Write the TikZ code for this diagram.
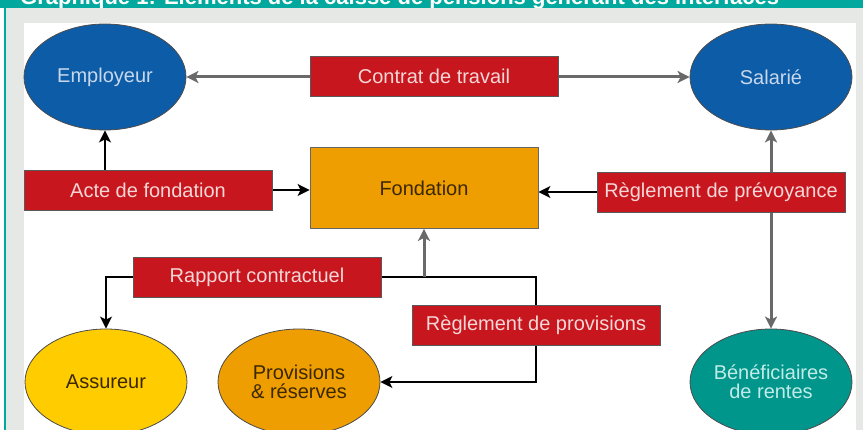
\documentclass[tikz,border=0pt]{standalone}
\usepackage{fontspec}
\setmainfont{Liberation Sans}
\usetikzlibrary{shapes.geometric,arrows.meta}
\definecolor{headteal}{RGB}{0,168,157}
\definecolor{bggray}{RGB}{230,232,230}
\definecolor{boxred}{RGB}{200,22,30}
\definecolor{ellblue}{RGB}{12,92,168}
\definecolor{fondorange}{RGB}{238,158,0}
\definecolor{assyellow}{RGB}{255,204,0}
\definecolor{benteal}{RGB}{0,150,140}
\definecolor{lightpink}{RGB}{245,215,215}
\definecolor{lightblue}{RGB}{200,215,235}
\definecolor{lightteal}{RGB}{195,235,230}
\definecolor{darktext}{RGB}{60,40,0}
\definecolor{wiregray}{RGB}{105,105,105}
\pgfdeclarelayer{bg}
\pgfdeclarelayer{wires}
\pgfsetlayers{bg,wires,main}
\tikzset{
  lbl/.style={font=\fontsize{20}{22}\selectfont},
  redbox/.style={rectangle, fill=boxred, draw=black!65, line width=0.8pt, text=lightpink,
    minimum width=248pt, minimum height=40pt, inner sep=0pt, lbl},
  ell/.style={ellipse, draw=black!70, line width=0.8pt, minimum width=162pt,
    minimum height=106pt, inner sep=0pt, lbl, align=center},
  blackwire/.style={draw=black, line width=2pt},
  graywire/.style={draw=wiregray, line width=3pt},
  tip/.style={-{Stealth[length=12pt,width=12pt,inset=3pt]}},
  dtip/.style={{Stealth[length=12pt,width=12pt,inset=3pt]}-{Stealth[length=12pt,width=12pt,inset=3pt]}}
}
\begin{document}
\begin{tikzpicture}[x=1pt,y=-1pt]
\useasboundingbox (0,0) rectangle (863,430);
\begin{pgfonlayer}{bg}
  \fill[white] (0,0) rectangle (863,430);
  \fill[bggray] (6,8) rectangle (863,430);
  \fill[headteal] (4,8) rectangle (6,430);
  \fill[white] (24,23) rectangle (856,430);
  \fill[headteal] (0,0) rectangle (863,8);
  \begin{scope}
    \clip (0,0) rectangle (863,8);
    \node[anchor=base west, inner sep=0pt, text=white,
      font=\bfseries\fontsize{22}{23}\selectfont] (title) at (20,5)
      {Graphique 1: Eléments de la caisse de pensions générant des interfaces};
  \end{scope}
\end{pgfonlayer}

% nodes
\node[ell, fill=ellblue, text=lightblue] (employeur) at (105,77) {Employeur};
\node[ell, fill=ellblue, text=lightblue] (salarie) at (771,77) {Salarié};
\node[redbox] (contrat) at (434,76) {Contrat de travail};
\node[redbox] (acte) at (148,190) {Acte de fondation};
\node[rectangle, fill=fondorange, draw=black!60, line width=0.8pt, minimum width=228pt,
  minimum height=81pt, inner sep=0pt, lbl, text=darktext] (fondation) at (424,188) {Fondation};
\node[redbox] (prevoyance) at (721,192) {Règlement de prévoyance};
\node[redbox] (rapport) at (257,277) {Rapport contractuel};
\node[redbox] (regprov) at (536,325) {Règlement de provisions};
\node[ell, fill=assyellow, text=darktext] (assureur) at (106,382) {Assureur};
\node[ell, fill=fondorange, text=darktext] (provisions) at (299,382) {Provisions\\[-3pt]\& réserves};
\node[ell, fill=benteal, text=lightteal] (benef) at (771,382) {Bénéficiaires\\[-3pt]de rentes};

\coordinate (junction) at (fondation.south |- rapport.east);

\begin{pgfonlayer}{wires}
  \draw[graywire, dtip] (employeur.east) -- (salarie.west);
  \draw[graywire, dtip] (salarie.south) -- (benef.north);
  \draw[blackwire, tip] (employeur.south |- acte.north) -- (employeur.south);
  \draw[blackwire, tip] (acte.east) -- (fondation.west |- acte.east);
  \draw[blackwire, tip] (prevoyance.west) -- (fondation.east |- prevoyance.west);
  \draw[blackwire, tip] (rapport.west) -| (assureur.north);
  \draw[blackwire, tip] (rapport.east) -- (regprov.center |- rapport.east)
     -- (regprov.center |- provisions.east) -- (provisions.east);
  \draw[graywire, tip] (junction) -- (fondation.south);
\end{pgfonlayer}
\end{tikzpicture}
\end{document}
